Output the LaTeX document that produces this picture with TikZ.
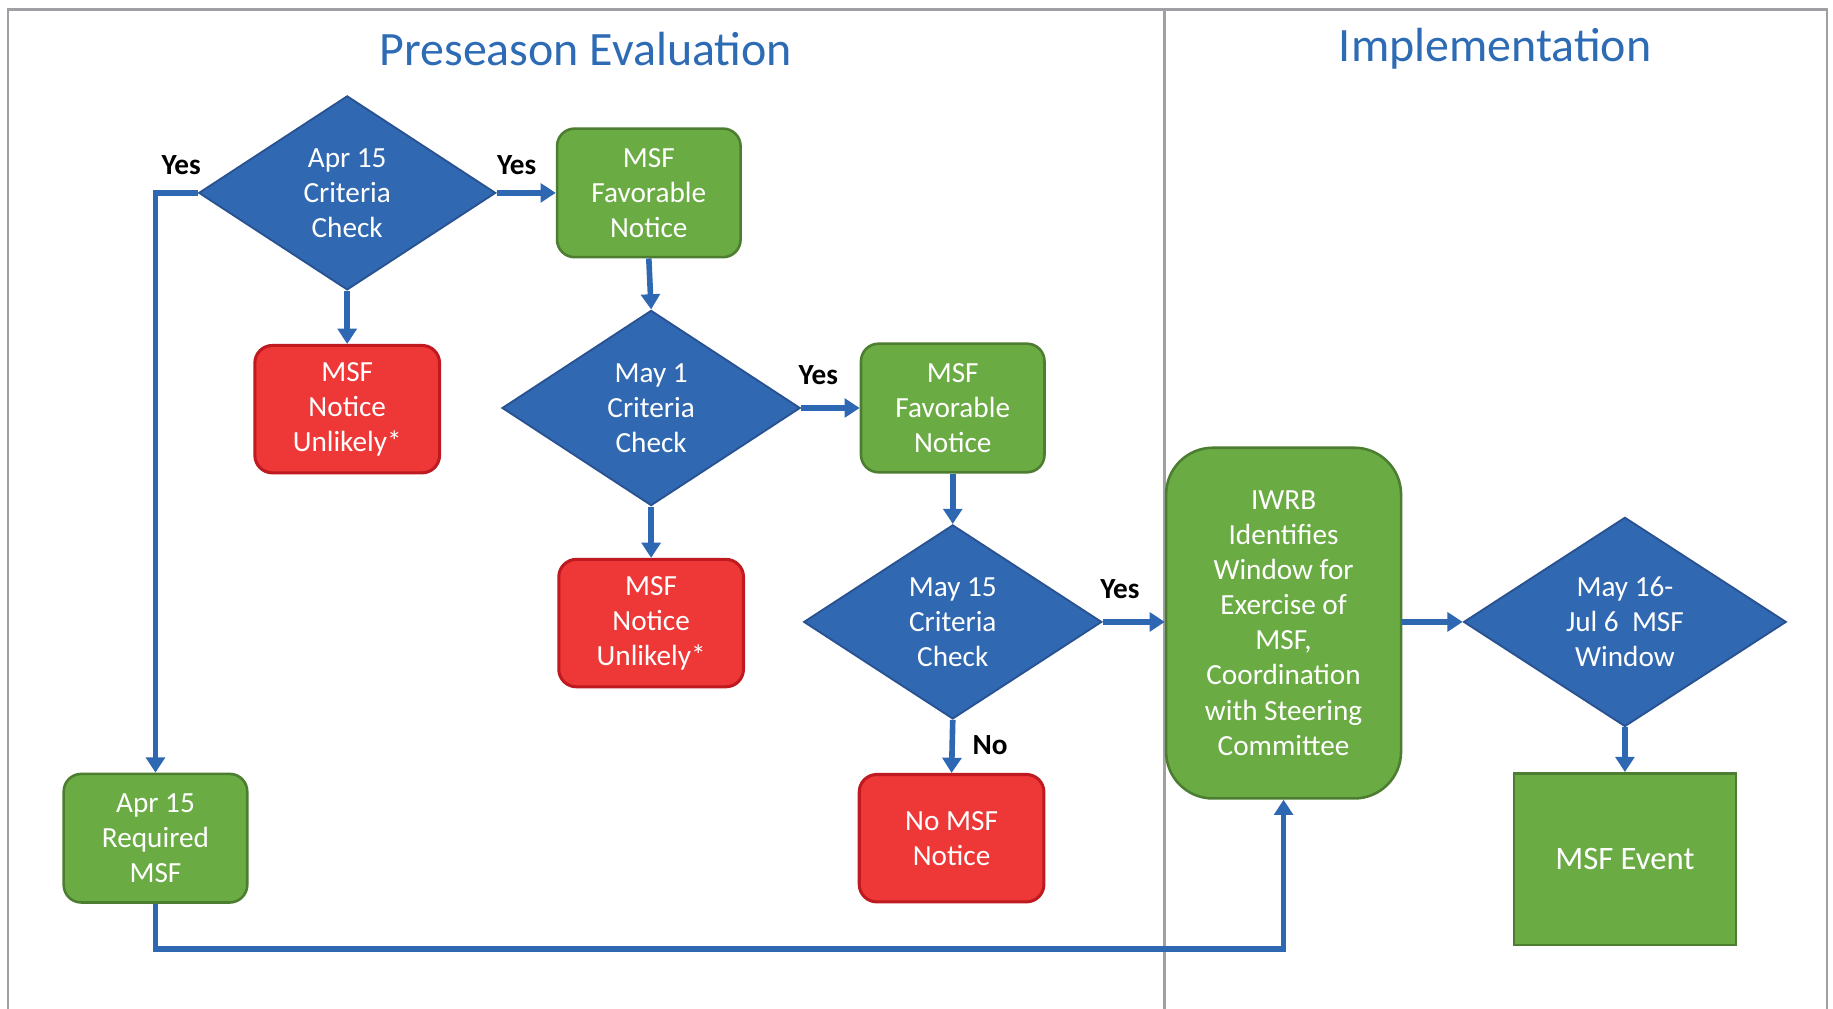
\documentclass[tikz,border=0pt]{standalone}
\usepackage{fontspec}
\setmainfont{Carlito}
\usetikzlibrary{shapes.geometric,arrows.meta}
\definecolor{dblue}{RGB}{48,104,177}
\definecolor{dblueB}{RGB}{40,82,145}
\definecolor{lblue}{RGB}{46,103,178}
\definecolor{ggreen}{RGB}{106,171,68}
\definecolor{ggreenB}{RGB}{76,125,48}
\definecolor{rred}{RGB}{238,55,55}
\definecolor{rredB}{RGB}{190,26,32}
\definecolor{frameg}{RGB}{160,160,164}
\definecolor{titleblue}{RGB}{46,107,181}
\tikzset{
  body/.style={font=\fontsize{12.5}{15}\selectfont, text=white, align=center},
  dia/.style={diamond, body, fill=dblue, draw=dblueB, line width=0.8pt, inner sep=0pt},
  gbox/.style={rectangle, body, rounded corners=7.5pt, fill=ggreen, draw=ggreenB, line width=1.1pt, minimum width=78.5pt, minimum height=55pt, inner sep=0pt},
  rbox/.style={rectangle, body, rounded corners=7.5pt, fill=rred, draw=rredB, line width=1.3pt, minimum width=79pt, minimum height=54.5pt, inner sep=0pt},
  arr/.style={draw=lblue, line width=2.4pt, -{Triangle[length=6.5pt,width=8pt]}},
  lab/.style={font=\fontsize{12.5}{15}\selectfont\bfseries, text=black},
  ttl/.style={font=\fontsize{20.5}{24}\selectfont, text=titleblue},
  frm/.style={draw=frameg, line width=1.1pt}
}
\begin{document}
\begin{tikzpicture}[x=0.5pt,y=-0.5pt]
\useasboundingbox (0,0) rectangle (1568,863);
\fill[white] (0,0) rectangle (1568,863);
% frame
\draw[frm] (7,863) -- (7,8) -- (1563,8) -- (1563,863);
\draw[frm] (996,8) -- (996,863);
% titles
\node[ttl] (t1) at (501,42) {Preseason Evaluation};
\node[ttl] (t2) at (1279,42) {Implementation};
% nodes
\node[dia, minimum width=127pt, minimum height=83pt] (d1) at (297,165) {Apr 15\\Criteria\\Check};
\node[gbox] (g1) at (555,165) {MSF\\Favorable\\Notice};
\node[rbox] (r1) at (297,350) {MSF\\Notice\\Unlikely*};
\node[dia, minimum width=127.5pt, minimum height=83.5pt] (d2) at (557,349) {May 1\\Criteria\\Check};
\node[rbox] (r2) at (557,533) {MSF\\Notice\\Unlikely*};
\node[gbox] (g2) at (815,349) {MSF\\Favorable\\Notice};
\node[dia, minimum width=127.5pt, minimum height=83pt] (d3) at (815,532) {May 15\\Criteria\\Check};
\node[rbox] (r3) at (814,717) {No MSF\\Notice};
\node[gbox] (a15) at (133,717) {Apr 15\\Required\\MSF};
\node[gbox, rounded corners=20pt, minimum width=100.5pt, minimum height=150pt] (iw) at (1098,533) {IWRB\\Identifies\\Window for\\Exercise of\\MSF,\\Coordination\\with Steering\\Committee};
\node[dia, minimum width=138pt, minimum height=89.5pt] (d4) at (1390,532) {May 16-\\Jul 6\ \ MSF\\Window};
\node[gbox, rounded corners=0pt, minimum width=95pt, minimum height=73.5pt, font=\fontsize{14}{17}\selectfont] (ev) at (1390,735) {MSF Event};
% labels
\node[lab] (y1) at (155,141) {Yes};
\node[lab] (y2) at (442,141) {Yes};
\node[lab] (y3) at (700,321) {Yes};
\node[lab] (y4) at (958,504) {Yes};
\node[lab] (n1) at (847,637) {No};
% connectors
\draw[arr] (d1.east) -- (g1.west);
\draw[arr] (d1.south) -- (r1.north);
\draw[arr] (d1.west) -| (a15.north);
\draw[arr] (g1.south) -- (d2.north);
\draw[arr] (d2.east) -- (g2.west);
\draw[arr] (d2.south) -- (r2.north);
\draw[arr] (g2.south) -- (d3.north);
\draw[arr] (d3.east) -- (d3.east -| iw.west);
\draw[arr] (d3.south) -- (r3.north);
\coordinate (bot) at (0,812);
\draw[arr] (a15.south) -- (a15.south |- bot) -| (iw.south);
\draw[arr] (iw.east |- d4.west) -- (d4.west);
\draw[arr] (d4.south -| ev.north) -- (ev.north);
\end{tikzpicture}
\end{document}
